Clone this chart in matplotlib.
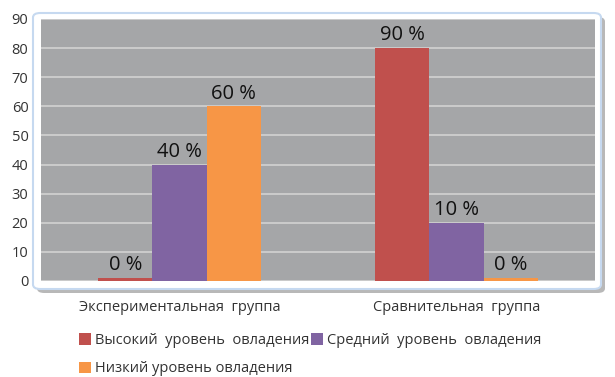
import matplotlib.pyplot as plt
from matplotlib.patches import FancyBboxPatch
import numpy as np

plt.rcParams['font.family'] = ['Open Sans', 'DejaVu Sans']

# Данные
groups = ['Экспериментальная  группа', 'Сравнительная  группа']
series = ['Высокий  уровень  овладения', 'Средний  уровень  овладения', 'Низкий уровень овладения']
high = [1, 80]
mid = [40, 20]
low = [60, 1]
high_labels = ['0 %', '90 %']
mid_labels = ['40 %', '10 %']
low_labels = ['60 %', '0 %']
colors = ['#C0504D', '#8064A2', '#F79646']

W, H = 615, 377
fig = plt.figure(figsize=(W / 100, H / 100), dpi=100)

# рамка с тенью вокруг области построения
x0, x1, y0, y1 = 33, 601, 13, 289
shadow = FancyBboxPatch((x0 / W + 4 / W, 1 - y1 / H - 4 / H), (x1 - x0) / W, (y1 - y0) / H,
                        boxstyle='round,pad=0,rounding_size=0.012', transform=fig.transFigure,
                        facecolor='#b8b8b8', edgecolor='none', zorder=-2)
frame = FancyBboxPatch((x0 / W, 1 - y1 / H), (x1 - x0) / W, (y1 - y0) / H,
                       boxstyle='round,pad=0,rounding_size=0.012', transform=fig.transFigure,
                       facecolor='white', edgecolor='#c6d9f0', linewidth=1.5, zorder=-1)
fig.patches.extend([shadow, frame])

ax = fig.add_axes([41 / W, 1 - 281 / H, (595 - 41) / W, (281 - 19) / H])
ax.set_zorder(1)
ax.set_facecolor('#a5a6a8')

x = np.arange(len(groups))
w = 0.195
bars = []
for i, (vals, labs) in enumerate([(high, high_labels), (mid, mid_labels), (low, low_labels)]):
    b = ax.bar(x + (i - 1) * w, vals, w, color=colors[i], label=series[i], zorder=3)
    bars.append(b)
    for rect, lab in zip(b, labs):
        ax.annotate(lab, (rect.get_x() + rect.get_width() / 2, rect.get_height()),
                    xytext=(0, 2), textcoords='offset points', ha='center', va='bottom',
                    fontsize=14.5, color='#111111', zorder=4)

ax.set_xlim(-0.5, 1.5)
ax.set_ylim(0, 90)
ax.set_yticks(range(0, 91, 10))
ax.yaxis.grid(True, color='#d2d2d2', linewidth=1.2, zorder=1)
ax.set_axisbelow(True)
for s in ax.spines.values():
    s.set_visible(False)
ax.tick_params(axis='both', length=0, labelsize=10.5, colors='#333333')
ax.tick_params(axis='y', pad=9)
ax.tick_params(axis='x', pad=14)
ax.set_xticks(x)
ax.set_xticklabels(groups)

handles = [bars[0], bars[2], bars[1]]
labels = [series[0], series[2], series[1]]
fig.legend(handles, labels, ncol=2, loc='upper left', bbox_to_anchor=(66 / W, 1 - 320 / H),
           frameon=False, fontsize=10.5, handlelength=0.8, handleheight=0.8,
           handletextpad=0.3, columnspacing=0.1, labelspacing=0.9, labelcolor='#333333')

fig.savefig('out.png', dpi=100)
